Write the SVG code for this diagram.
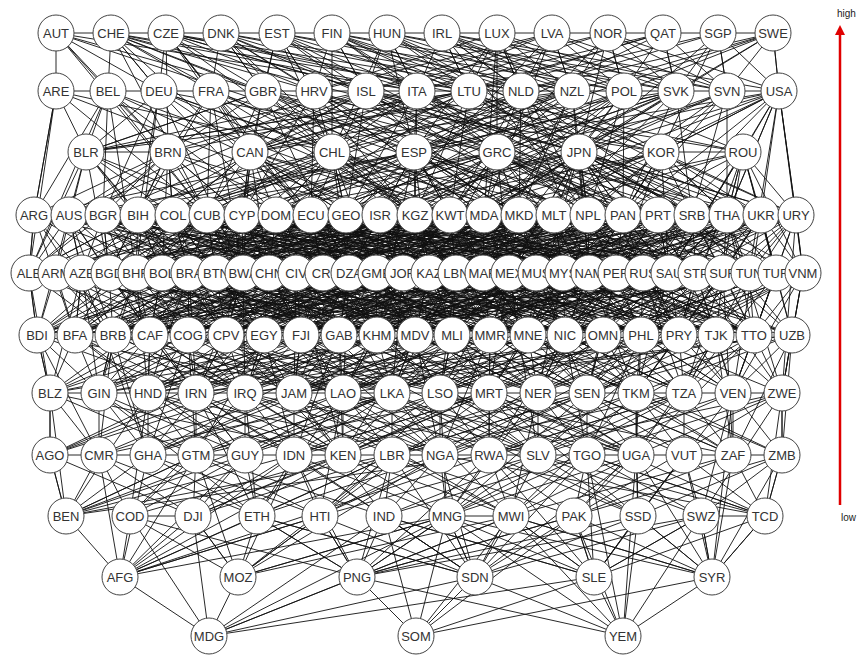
<svg xmlns="http://www.w3.org/2000/svg" width="861" height="657" viewBox="0 0 861 657">
<style>
.e{fill:none;stroke:#111;stroke-width:0.9;stroke-linejoin:round}
.n circle{fill:#fff;stroke:#444;stroke-width:1}
.n text{font-family:"Liberation Sans",Arial,sans-serif;font-size:13px;fill:#333;text-anchor:middle}
.lg{font-family:"Liberation Sans",Arial,sans-serif;font-size:10px;fill:#222}
</style>
<defs>
<marker id="ah" viewBox="0 0 10 10" refX="5" refY="5" markerWidth="4" markerHeight="4" orient="auto">
<path d="M0,0 10,5 0,10z" fill="#e00000"/>
</marker>
</defs>
<rect width="861" height="657" fill="#fff"/>
<g id="edges">
<path class="e" d="M56,33 111,33 166,33 221,33 277,33 332,33 387,33 442,33 497,33 552,33 608,33 663,33 718,33 773,33 M56,91 108,91 159,91 211,91 263,91 314,91 366,91 417,91 469,91 521,91 572,91 624,91 676,91 727,91 779,91 M86,152 168,152 M661,152 743,152 M50,393 99,393 148,393 196,393 245,393 294,393 343,393 392,393 440,393 489,393 538,393 587,393 636,393 684,393 733,393 782,393 M50,455 99,455 148,455 196,455 245,455 294,455 343,455 392,455 440,455 489,455 538,455 587,455 636,455 684,455 733,455 782,455 M130,516 193,516 M447,516 511,516 M701,516 765,516"/>
<path class="e" d="M56,33 56,91 M773,33 779,91 M56,91 34,215 29,273 37,335 50,393 50,455 66,516 M779,91 796,215 803,273 792,335 782,393 782,455 765,516"/>
<path class="e" d="M56,33 108,91 111,33 159,91 166,33 211,91 221,33 263,91 277,33 314,91 332,33 366,91 387,33 417,91 442,33 469,91 497,33 521,91 552,33 572,91 608,33 624,91 663,33 676,91 718,33 727,91 773,33 779,91 M56,33 263,91 111,33 314,91 166,33 366,91 221,33 417,91 277,33 469,91 332,33 521,91 387,33 572,91 442,33 624,91 497,33 676,91 552,33 727,91 608,33 779,91 M497,33 314,91 552,33 366,91 608,33 417,91 663,33 469,91 718,33 521,91 773,33 572,91 M56,33 417,91 111,33 469,91 166,33 521,91 221,33 572,91 277,33 624,91 332,33 676,91 387,33 727,91 442,33 779,91 M773,33 676,91 M773,33 624,91 M56,33 159,91 111,33 211,91 166,33 263,91 221,33 314,91 277,33 366,91 332,33 417,91 387,33 469,91 442,33 521,91 497,33 572,91 552,33 624,91 608,33 676,91 663,33 727,91 718,33 779,91"/>
<path class="e" d="M56,33 168,152 166,33 250,152 277,33 332,152 387,33 414,152 497,33 497,152 608,33 579,152 718,33 661,152 M332,33 332,152 M111,33 332,152 221,33 497,152 332,33 661,152 442,33 743,152 M552,33 250,152 663,33 414,152 773,33 579,152 M56,33 207,215 111,33 311,215 166,33 415,215 221,33 519,215 277,33 623,215 332,33 727,215 387,33 692,215 442,33 588,215 497,33 484,215 552,33 380,215 M56,33 414,152 111,33 579,152 166,33 743,152"/>
<path class="e" d="M56,91 86,152 108,91 168,152 211,91 250,152 314,91 332,152 417,91 414,152 521,91 497,152 624,91 579,152 727,91 661,152 779,91 743,152 M159,91 86,152 263,91 168,152 366,91 250,152 469,91 332,152 572,91 414,152 676,91 497,152 779,91 579,152 M56,91 332,152 159,91 497,152 263,91 661,152 366,91 743,152 M779,91 414,152 676,91 250,152 572,91 86,152 469,91 168,152 M86,152 263,91 M86,152 366,91 M86,152 469,91 M779,91 661,152 M779,91 727,215 M779,91 761,215"/>
<path class="e" d="M56,91 34,215 108,91 103,215 159,91 138,215 211,91 207,215 263,91 242,215 314,91 311,215 366,91 346,215 417,91 415,215 469,91 450,215 521,91 519,215 572,91 588,215 624,91 623,215 676,91 692,215 727,91 727,215 779,91 796,215 M56,91 207,215 108,91 276,215 159,91 346,215 211,91 415,215 263,91 484,215 314,91 554,215 366,91 623,215 417,91 692,215 469,91 761,215 521,91 796,215 M314,91 69,215 366,91 138,215 417,91 207,215 469,91 276,215 521,91 346,215 572,91 415,215 624,91 484,215 676,91 554,215 727,91 623,215 779,91 658,215 M56,91 380,215 108,91 450,215 159,91 519,215 211,91 588,215 263,91 658,215 314,91 727,215 366,91 796,215 M521,91 173,215 572,91 242,215 624,91 311,215 676,91 380,215 727,91 450,215 779,91 519,215"/>
<path class="e" d="M86,152 69,215 168,152 173,215 250,152 276,215 332,152 346,215 414,152 450,215 497,152 554,215 579,152 623,215 661,152 727,215 743,152 796,215 M86,152 138,215 168,152 242,215 250,152 346,215 332,152 415,215 414,152 519,215 497,152 623,215 579,152 692,215 661,152 761,215 743,152 727,215 M86,152 242,215 168,152 380,215 250,152 484,215 332,152 588,215 414,152 658,215 497,152 761,215 579,152 796,215 M743,152 519,215 661,152 415,215 579,152 311,215 497,152 207,215 414,152 103,215 332,152 34,215 M743,152 623,215 661,152 588,215 579,152 484,215 497,152 380,215 414,152 276,215 332,152 173,215 250,152 103,215 168,152 34,215 M86,152 173,215 168,152 311,215 250,152 450,215 332,152 519,215 414,152 588,215 497,152 692,215 579,152 727,215 661,152 796,215 M743,152 450,215 661,152 346,215 579,152 242,215 497,152 138,215 414,152 69,215"/>
<path class="e" d="M56,91 29,273 108,91 136,273 159,91 243,273 211,91 349,273 263,91 456,273 314,91 563,273 366,91 669,273 417,91 776,273 469,91 696,273 521,91 589,273 572,91 483,273 624,91 376,273 676,91 269,273 M779,91 803,273 M779,91 749,273 M779,91 669,273 M86,152 29,273 168,152 162,273 250,152 269,273 332,152 349,273 414,152 429,273 497,152 509,273 579,152 589,273 661,152 669,273 743,152 776,273 M86,152 109,273 168,152 243,273 250,152 376,273 332,152 483,273 414,152 589,273 497,152 696,273 579,152 803,273 M743,152 616,273 661,152 509,273 579,152 403,273 497,152 296,273 414,152 189,273 332,152 82,273 M86,152 56,273 M86,152 189,273 M86,152 323,273 M743,152 723,273 M743,152 803,273 M743,152 669,273 M86,152 226,335 250,152 377,335 414,152 528,335 579,152 679,335 743,152 792,335"/>
<path class="e" d="M34,215 29,273 69,215 82,273 103,215 109,273 138,215 136,273 173,215 189,273 207,215 216,273 242,215 243,273 276,215 269,273 311,215 323,273 346,215 349,273 380,215 376,273 415,215 403,273 450,215 456,273 484,215 483,273 519,215 509,273 554,215 563,273 588,215 589,273 623,215 616,273 658,215 669,273 692,215 696,273 727,215 723,273 761,215 776,273 796,215 803,273 M34,215 136,273 69,215 189,273 103,215 216,273 138,215 269,273 173,215 296,273 207,215 349,273 242,215 376,273 276,215 403,273 311,215 456,273 346,215 483,273 380,215 536,273 415,215 563,273 450,215 589,273 484,215 616,273 519,215 669,273 554,215 696,273 588,215 749,273 623,215 776,273 658,215 803,273 M138,215 29,273 173,215 56,273 207,215 109,273 242,215 136,273 276,215 162,273 311,215 216,273 346,215 243,273 380,215 296,273 415,215 323,273 450,215 349,273 484,215 403,273 519,215 429,273 554,215 456,273 588,215 509,273 623,215 536,273 658,215 563,273 692,215 589,273 727,215 643,273 761,215 669,273 796,215 696,273"/>
<path class="e" d="M34,215 269,273 69,215 323,273 103,215 349,273 138,215 403,273 173,215 429,273 207,215 483,273 242,215 509,273 276,215 563,273 311,215 589,273 346,215 643,273 380,215 669,273 415,215 723,273 450,215 749,273 484,215 803,273 M276,215 29,273 311,215 82,273 346,215 109,273 380,215 162,273 415,215 189,273 450,215 243,273 484,215 269,273 519,215 296,273 554,215 349,273 588,215 376,273 623,215 429,273 658,215 456,273 692,215 509,273 727,215 536,273 761,215 589,273 796,215 616,273 M34,215 429,273 69,215 483,273 103,215 536,273 138,215 589,273 173,215 643,273 207,215 696,273 242,215 749,273 276,215 803,273 M450,215 29,273 484,215 82,273 519,215 136,273 554,215 189,273 588,215 243,273 623,215 296,273 658,215 349,273 692,215 403,273 727,215 456,273 761,215 509,273 796,215 563,273"/>
<path class="e" d="M34,215 82,273 69,215 109,273 103,215 162,273 138,215 189,273 173,215 216,273 207,215 269,273 242,215 296,273 276,215 323,273 311,215 376,273 346,215 403,273 380,215 429,273 415,215 456,273 450,215 509,273 484,215 536,273 519,215 563,273 554,215 616,273 588,215 643,273 623,215 669,273 658,215 723,273 692,215 749,273 727,215 776,273 761,215 803,273 M103,215 29,273 138,215 82,273 173,215 109,273 207,215 136,273 242,215 189,273 276,215 216,273 311,215 243,273 346,215 296,273 380,215 323,273 415,215 349,273 450,215 403,273 484,215 429,273 519,215 456,273 554,215 509,273 588,215 536,273 623,215 563,273 658,215 616,273 692,215 643,273 727,215 669,273 761,215 723,273 796,215 749,273 M34,215 349,273 103,215 429,273 173,215 483,273 242,215 563,273 311,215 643,273 380,215 696,273 450,215 776,273 M796,215 483,273 727,215 403,273 658,215 349,273 588,215 269,273 519,215 189,273 450,215 136,273 380,215 56,273"/>
<path class="e" d="M34,215 113,335 69,215 150,335 103,215 188,335 138,215 226,335 173,215 264,335 207,215 301,335 242,215 339,335 276,215 377,335 311,215 415,335 346,215 415,335 380,215 452,335 415,215 490,335 450,215 528,335 484,215 565,335 519,215 603,335 554,215 641,335 588,215 679,335 623,215 716,335 658,215 754,335 692,215 792,335 M173,215 37,335 207,215 75,335 242,215 113,335 276,215 150,335 311,215 188,335 346,215 226,335 380,215 264,335 415,215 301,335 450,215 339,335 484,215 377,335 519,215 415,335 554,215 452,335 588,215 490,335 623,215 528,335 658,215 565,335 692,215 603,335 727,215 641,335 761,215 679,335 796,215 716,335 M34,215 339,335 69,215 377,335 103,215 415,335 138,215 452,335 173,215 490,335 207,215 528,335 242,215 565,335 276,215 603,335 311,215 641,335 346,215 679,335 380,215 716,335 415,215 754,335 450,215 792,335 M380,215 37,335 415,215 75,335 450,215 113,335 484,215 150,335 519,215 188,335 554,215 226,335 588,215 264,335 623,215 301,335 658,215 339,335 692,215 377,335 727,215 415,335 761,215 452,335 796,215 490,335 M796,215 754,335 M761,215 792,335 M727,215 754,335 M69,215 37,335 M34,215 75,335 M796,215 782,393 M761,215 733,393 M727,215 782,393"/>
<path class="e" d="M29,273 37,335 56,273 75,335 82,273 75,335 109,273 113,335 136,273 150,335 162,273 150,335 189,273 188,335 216,273 226,335 243,273 226,335 269,273 264,335 296,273 301,335 323,273 339,335 349,273 339,335 376,273 377,335 403,273 415,335 429,273 415,335 456,273 452,335 483,273 490,335 509,273 490,335 536,273 528,335 563,273 565,335 589,273 565,335 616,273 603,335 643,273 641,335 669,273 679,335 696,273 679,335 723,273 716,335 749,273 754,335 776,273 754,335 803,273 792,335 M29,273 188,335 56,273 226,335 82,273 226,335 109,273 264,335 136,273 301,335 162,273 339,335 189,273 339,335 216,273 377,335 243,273 415,335 269,273 415,335 296,273 452,335 323,273 490,335 349,273 490,335 376,273 528,335 403,273 565,335 429,273 603,335 456,273 603,335 483,273 641,335 509,273 679,335 536,273 679,335 563,273 716,335 589,273 754,335 616,273 754,335 643,273 792,335 M189,273 37,335 216,273 75,335 243,273 113,335 269,273 113,335 296,273 150,335 323,273 188,335 349,273 226,335 376,273 226,335 403,273 264,335 429,273 301,335 456,273 301,335 483,273 339,335 509,273 377,335 536,273 377,335 563,273 415,335 589,273 452,335 616,273 452,335 643,273 490,335 669,273 528,335 696,273 528,335 723,273 565,335 749,273 603,335 776,273 603,335 803,273 641,335"/>
<path class="e" d="M29,273 377,335 82,273 415,335 136,273 452,335 189,273 490,335 243,273 528,335 296,273 565,335 349,273 603,335 403,273 641,335 456,273 679,335 509,273 716,335 563,273 754,335 616,273 792,335 M376,273 37,335 429,273 75,335 483,273 113,335 536,273 150,335 589,273 188,335 643,273 226,335 696,273 264,335 749,273 301,335 803,273 339,335 M56,273 301,335 109,273 339,335 162,273 377,335 216,273 452,335 269,273 490,335 323,273 528,335 376,273 603,335 429,273 641,335 483,273 679,335 536,273 754,335 589,273 792,335"/>
<path class="e" d="M29,273 113,335 56,273 150,335 109,273 188,335 136,273 226,335 189,273 264,335 216,273 301,335 269,273 339,335 296,273 377,335 349,273 415,335 376,273 452,335 429,273 490,335 456,273 528,335 483,273 565,335 536,273 603,335 563,273 641,335 616,273 679,335 643,273 716,335 696,273 754,335 723,273 792,335 M136,273 37,335 162,273 75,335 216,273 113,335 269,273 150,335 296,273 188,335 349,273 226,335 376,273 264,335 429,273 301,335 456,273 339,335 483,273 377,335 536,273 415,335 563,273 452,335 616,273 490,335 643,273 528,335 696,273 565,335 723,273 603,335 776,273 641,335 803,273 679,335 M29,273 528,335 109,273 603,335 189,273 679,335 269,273 754,335 349,273 792,335 M803,273 301,335 723,273 226,335 643,273 150,335 563,273 75,335 483,273 37,335"/>
<path class="e" d="M29,273 50,393 82,273 99,393 136,273 148,393 189,273 196,393 243,273 245,393 296,273 294,393 349,273 343,393 403,273 392,393 456,273 440,393 509,273 489,393 563,273 538,393 616,273 587,393 669,273 636,393 723,273 684,393 776,273 733,393 803,273 782,393 M56,273 196,393 109,273 245,393 162,273 294,393 216,273 343,393 269,273 392,393 323,273 440,393 376,273 489,393 429,273 538,393 483,273 587,393 536,273 636,393 589,273 684,393 643,273 733,393 696,273 782,393 M216,273 50,393 269,273 99,393 323,273 148,393 376,273 196,393 429,273 245,393 483,273 294,393 536,273 343,393 589,273 392,393 643,273 440,393 696,273 489,393 749,273 538,393 803,273 587,393 M82,273 148,455 296,273 343,455 509,273 538,455 723,273 733,455"/>
<path class="e" d="M37,335 50,393 75,335 99,393 113,335 99,393 150,335 148,393 188,335 196,393 226,335 245,393 264,335 245,393 301,335 294,393 339,335 343,393 377,335 392,393 415,335 392,393 452,335 440,393 490,335 489,393 528,335 538,393 565,335 538,393 603,335 587,393 641,335 636,393 679,335 684,393 716,335 684,393 754,335 733,393 792,335 782,393 M37,335 196,393 75,335 245,393 113,335 245,393 150,335 294,393 188,335 343,393 226,335 392,393 264,335 392,393 301,335 440,393 339,335 489,393 377,335 538,393 415,335 538,393 452,335 587,393 490,335 636,393 528,335 684,393 565,335 684,393 603,335 733,393 641,335 782,393 M188,335 50,393 226,335 99,393 264,335 148,393 301,335 148,393 339,335 196,393 377,335 245,393 415,335 294,393 452,335 294,393 490,335 343,393 528,335 392,393 565,335 440,393 603,335 440,393 641,335 489,393 679,335 538,393 716,335 587,393 754,335 587,393 792,335 636,393 M37,335 343,393 113,335 392,393 188,335 440,393 264,335 489,393 339,335 538,393 415,335 587,393 490,335 636,393 565,335 684,393 641,335 733,393 716,335 782,393 M339,335 50,393 415,335 99,393 490,335 148,393 565,335 196,393 641,335 245,393 716,335 294,393 792,335 343,393 M37,335 99,393 M75,335 148,393 150,335 196,393 226,335 294,393 301,335 343,393 377,335 440,393 452,335 489,393 528,335 587,393 603,335 636,393 679,335 733,393 754,335 782,393"/>
<path class="e" d="M37,335 99,455 113,335 148,455 188,335 196,455 264,335 294,455 339,335 343,455 415,335 440,455 490,335 489,455 565,335 587,455 641,335 636,455 716,335 733,455 792,335 782,455 M75,335 245,455 150,335 343,455 226,335 440,455 301,335 538,455 377,335 636,455 452,335 733,455 528,335 782,455 M301,335 50,455 377,335 148,455 452,335 245,455 528,335 343,455 603,335 440,455 679,335 538,455 754,335 636,455"/>
<path class="e" d="M50,393 50,455 M50,393 99,455 99,393 148,455 148,393 196,455 196,393 245,455 245,393 294,455 294,393 343,455 343,393 392,455 392,393 440,455 440,393 489,455 489,393 538,455 538,393 587,455 587,393 636,455 636,393 684,455 684,393 733,455 733,393 782,455 782,393 M50,393 196,455 99,393 245,455 148,393 294,455 196,393 343,455 245,393 392,455 294,393 440,455 343,393 489,455 392,393 538,455 440,393 587,455 489,393 636,455 538,393 684,455 587,393 733,455 636,393 782,455 M196,393 50,455 245,393 99,455 294,393 148,455 343,393 196,455 392,393 245,455 440,393 294,455 489,393 343,455 538,393 392,455 587,393 440,455 636,393 489,455 684,393 538,455 733,393 587,455 782,393 636,455 M50,393 343,455 148,393 440,455 245,393 538,455 343,393 636,455 440,393 733,455 M782,393 489,455 684,393 392,455 587,393 294,455 489,393 196,455 392,393 99,455"/>
<path class="e" d="M50,393 66,516 148,393 130,516 245,393 257,516 343,393 320,516 440,393 447,516 538,393 511,516 636,393 638,516 733,393 701,516 782,393 765,516 M99,393 257,516 196,393 384,516 294,393 511,516 392,393 638,516 489,393 765,516 M782,393 574,516 684,393 447,516 587,393 320,516 489,393 193,516 392,393 66,516"/>
<path class="e" d="M50,455 66,516 99,455 130,516 196,455 193,516 245,455 257,516 294,455 320,516 392,455 384,516 440,455 447,516 489,455 511,516 587,455 574,516 636,455 638,516 684,455 701,516 782,455 765,516 M50,455 193,516 99,455 257,516 148,455 320,516 196,455 384,516 294,455 447,516 343,455 511,516 392,455 574,516 489,455 638,516 538,455 701,516 587,455 765,516 M196,455 66,516 245,455 130,516 343,455 193,516 392,455 257,516 440,455 320,516 538,455 384,516 587,455 447,516 636,455 511,516 733,455 574,516 782,455 638,516 M66,516 148,455 M66,516 294,455 M66,516 392,455 M66,516 489,455 M66,516 196,455 M765,516 587,455 M765,516 538,455 M765,516 440,455 M765,516 684,455 M765,516 733,455"/>
<path class="e" d="M66,516 120,577 130,516 238,577 193,516 238,577 257,516 357,577 320,516 357,577 384,516 475,577 447,516 475,577 511,516 594,577 574,516 594,577 638,516 712,577 701,516 712,577 765,516 M193,516 120,577 320,516 238,577 447,516 357,577 574,516 475,577 701,516 594,577 M130,516 357,577 257,516 475,577 384,516 594,577 511,516 712,577"/>
<path class="e" d="M120,577 99,455 M120,577 148,455 M120,577 196,455 M120,577 245,455 M120,577 294,455 M120,577 343,455 M120,577 392,455 M120,577 489,455 M120,577 257,516 M120,577 320,516 M120,577 447,516 M238,577 196,455 M238,577 294,455 M238,577 392,455 M238,577 440,455 M238,577 320,516 M238,577 447,516 M238,577 511,516 M357,577 294,455 M357,577 392,455 M357,577 489,455 M357,577 538,455 M357,577 574,516 M357,577 638,516 M357,577 701,516 M357,577 511,516 M475,577 392,455 M475,577 440,455 M475,577 538,455 M475,577 587,455 M475,577 636,455 M475,577 384,516 M475,577 320,516 M475,577 638,516 M475,577 257,516 M594,577 489,455 M594,577 587,455 M594,577 684,455 M594,577 638,516 M594,577 701,516 M594,577 765,516 M594,577 447,516 M594,577 384,516 M712,577 636,455 M712,577 684,455 M712,577 733,455 M712,577 782,455 M712,577 638,516 M712,577 765,516 M712,577 574,516 M712,577 511,516 M712,577 447,516 M712,577 733,393"/>
<path class="e" d="M209,636 120,577 M209,636 238,577 M209,636 357,577 M209,636 475,577 M209,636 594,577 M209,636 130,516 M209,636 193,516 M209,636 447,516 M209,636 384,516 M209,636 511,516 M416,636 357,577 M416,636 475,577 M416,636 594,577 M416,636 712,577 M416,636 384,516 M416,636 447,516 M416,636 511,516 M416,636 574,516 M623,636 475,577 M623,636 594,577 M623,636 712,577 M623,636 357,577 M623,636 511,516 M623,636 574,516 M623,636 638,516 M623,636 636,455 M623,636 587,455 M623,636 701,516 M623,636 447,516"/>
</g>
<g id="nodes" class="n">
<g id="AUT"><circle cx="56" cy="33" r="18"/><text x="56" y="37.5">AUT</text></g>
<g id="CHE"><circle cx="111" cy="33" r="18"/><text x="111" y="37.5">CHE</text></g>
<g id="CZE"><circle cx="166" cy="33" r="18"/><text x="166" y="37.5">CZE</text></g>
<g id="DNK"><circle cx="221" cy="33" r="18"/><text x="221" y="37.5">DNK</text></g>
<g id="EST"><circle cx="277" cy="33" r="18"/><text x="277" y="37.5">EST</text></g>
<g id="FIN"><circle cx="332" cy="33" r="18"/><text x="332" y="37.5">FIN</text></g>
<g id="HUN"><circle cx="387" cy="33" r="18"/><text x="387" y="37.5">HUN</text></g>
<g id="IRL"><circle cx="442" cy="33" r="18"/><text x="442" y="37.5">IRL</text></g>
<g id="LUX"><circle cx="497" cy="33" r="18"/><text x="497" y="37.5">LUX</text></g>
<g id="LVA"><circle cx="552" cy="33" r="18"/><text x="552" y="37.5">LVA</text></g>
<g id="NOR"><circle cx="608" cy="33" r="18"/><text x="608" y="37.5">NOR</text></g>
<g id="QAT"><circle cx="663" cy="33" r="18"/><text x="663" y="37.5">QAT</text></g>
<g id="SGP"><circle cx="718" cy="33" r="18"/><text x="718" y="37.5">SGP</text></g>
<g id="SWE"><circle cx="773" cy="33" r="18"/><text x="773" y="37.5">SWE</text></g>
<g id="ARE"><circle cx="56" cy="91" r="18"/><text x="56" y="95.5">ARE</text></g>
<g id="BEL"><circle cx="108" cy="91" r="18"/><text x="108" y="95.5">BEL</text></g>
<g id="DEU"><circle cx="159" cy="91" r="18"/><text x="159" y="95.5">DEU</text></g>
<g id="FRA"><circle cx="211" cy="91" r="18"/><text x="211" y="95.5">FRA</text></g>
<g id="GBR"><circle cx="263" cy="91" r="18"/><text x="263" y="95.5">GBR</text></g>
<g id="HRV"><circle cx="314" cy="91" r="18"/><text x="314" y="95.5">HRV</text></g>
<g id="ISL"><circle cx="366" cy="91" r="18"/><text x="366" y="95.5">ISL</text></g>
<g id="ITA"><circle cx="417" cy="91" r="18"/><text x="417" y="95.5">ITA</text></g>
<g id="LTU"><circle cx="469" cy="91" r="18"/><text x="469" y="95.5">LTU</text></g>
<g id="NLD"><circle cx="521" cy="91" r="18"/><text x="521" y="95.5">NLD</text></g>
<g id="NZL"><circle cx="572" cy="91" r="18"/><text x="572" y="95.5">NZL</text></g>
<g id="POL"><circle cx="624" cy="91" r="18"/><text x="624" y="95.5">POL</text></g>
<g id="SVK"><circle cx="676" cy="91" r="18"/><text x="676" y="95.5">SVK</text></g>
<g id="SVN"><circle cx="727" cy="91" r="18"/><text x="727" y="95.5">SVN</text></g>
<g id="USA"><circle cx="779" cy="91" r="18"/><text x="779" y="95.5">USA</text></g>
<g id="BLR"><circle cx="86" cy="152" r="18"/><text x="86" y="156.5">BLR</text></g>
<g id="BRN"><circle cx="168" cy="152" r="18"/><text x="168" y="156.5">BRN</text></g>
<g id="CAN"><circle cx="250" cy="152" r="18"/><text x="250" y="156.5">CAN</text></g>
<g id="CHL"><circle cx="332" cy="152" r="18"/><text x="332" y="156.5">CHL</text></g>
<g id="ESP"><circle cx="414" cy="152" r="18"/><text x="414" y="156.5">ESP</text></g>
<g id="GRC"><circle cx="497" cy="152" r="18"/><text x="497" y="156.5">GRC</text></g>
<g id="JPN"><circle cx="579" cy="152" r="18"/><text x="579" y="156.5">JPN</text></g>
<g id="KOR"><circle cx="661" cy="152" r="18"/><text x="661" y="156.5">KOR</text></g>
<g id="ROU"><circle cx="743" cy="152" r="18"/><text x="743" y="156.5">ROU</text></g>
<g id="ARG"><circle cx="34" cy="215" r="18"/><text x="34" y="219.5">ARG</text></g>
<g id="AUS"><circle cx="69" cy="215" r="18"/><text x="69" y="219.5">AUS</text></g>
<g id="BGR"><circle cx="103" cy="215" r="18"/><text x="103" y="219.5">BGR</text></g>
<g id="BIH"><circle cx="138" cy="215" r="18"/><text x="138" y="219.5">BIH</text></g>
<g id="COL"><circle cx="173" cy="215" r="18"/><text x="173" y="219.5">COL</text></g>
<g id="CUB"><circle cx="207" cy="215" r="18"/><text x="207" y="219.5">CUB</text></g>
<g id="CYP"><circle cx="242" cy="215" r="18"/><text x="242" y="219.5">CYP</text></g>
<g id="DOM"><circle cx="276" cy="215" r="18"/><text x="276" y="219.5">DOM</text></g>
<g id="ECU"><circle cx="311" cy="215" r="18"/><text x="311" y="219.5">ECU</text></g>
<g id="GEO"><circle cx="346" cy="215" r="18"/><text x="346" y="219.5">GEO</text></g>
<g id="ISR"><circle cx="380" cy="215" r="18"/><text x="380" y="219.5">ISR</text></g>
<g id="KGZ"><circle cx="415" cy="215" r="18"/><text x="415" y="219.5">KGZ</text></g>
<g id="KWT"><circle cx="450" cy="215" r="18"/><text x="450" y="219.5">KWT</text></g>
<g id="MDA"><circle cx="484" cy="215" r="18"/><text x="484" y="219.5">MDA</text></g>
<g id="MKD"><circle cx="519" cy="215" r="18"/><text x="519" y="219.5">MKD</text></g>
<g id="MLT"><circle cx="554" cy="215" r="18"/><text x="554" y="219.5">MLT</text></g>
<g id="NPL"><circle cx="588" cy="215" r="18"/><text x="588" y="219.5">NPL</text></g>
<g id="PAN"><circle cx="623" cy="215" r="18"/><text x="623" y="219.5">PAN</text></g>
<g id="PRT"><circle cx="658" cy="215" r="18"/><text x="658" y="219.5">PRT</text></g>
<g id="SRB"><circle cx="692" cy="215" r="18"/><text x="692" y="219.5">SRB</text></g>
<g id="THA"><circle cx="727" cy="215" r="18"/><text x="727" y="219.5">THA</text></g>
<g id="UKR"><circle cx="761" cy="215" r="18"/><text x="761" y="219.5">UKR</text></g>
<g id="URY"><circle cx="796" cy="215" r="18"/><text x="796" y="219.5">URY</text></g>
<g id="ALB"><circle cx="29" cy="273" r="18"/><text x="29" y="277.5">ALB</text></g>
<g id="ARM"><circle cx="56" cy="273" r="18"/><text x="56" y="277.5">ARM</text></g>
<g id="AZE"><circle cx="82" cy="273" r="18"/><text x="82" y="277.5">AZE</text></g>
<g id="BGD"><circle cx="109" cy="273" r="18"/><text x="109" y="277.5">BGD</text></g>
<g id="BHR"><circle cx="136" cy="273" r="18"/><text x="136" y="277.5">BHR</text></g>
<g id="BOL"><circle cx="162" cy="273" r="18"/><text x="162" y="277.5">BOL</text></g>
<g id="BRA"><circle cx="189" cy="273" r="18"/><text x="189" y="277.5">BRA</text></g>
<g id="BTN"><circle cx="216" cy="273" r="18"/><text x="216" y="277.5">BTN</text></g>
<g id="BWA"><circle cx="243" cy="273" r="18"/><text x="243" y="277.5">BWA</text></g>
<g id="CHN"><circle cx="269" cy="273" r="18"/><text x="269" y="277.5">CHN</text></g>
<g id="CIV"><circle cx="296" cy="273" r="18"/><text x="296" y="277.5">CIV</text></g>
<g id="CRI"><circle cx="323" cy="273" r="18"/><text x="323" y="277.5">CRI</text></g>
<g id="DZA"><circle cx="349" cy="273" r="18"/><text x="349" y="277.5">DZA</text></g>
<g id="GMB"><circle cx="376" cy="273" r="18"/><text x="376" y="277.5">GMB</text></g>
<g id="JOR"><circle cx="403" cy="273" r="18"/><text x="403" y="277.5">JOR</text></g>
<g id="KAZ"><circle cx="429" cy="273" r="18"/><text x="429" y="277.5">KAZ</text></g>
<g id="LBN"><circle cx="456" cy="273" r="18"/><text x="456" y="277.5">LBN</text></g>
<g id="MAR"><circle cx="483" cy="273" r="18"/><text x="483" y="277.5">MAR</text></g>
<g id="MEX"><circle cx="509" cy="273" r="18"/><text x="509" y="277.5">MEX</text></g>
<g id="MUS"><circle cx="536" cy="273" r="18"/><text x="536" y="277.5">MUS</text></g>
<g id="MYS"><circle cx="563" cy="273" r="18"/><text x="563" y="277.5">MYS</text></g>
<g id="NAM"><circle cx="589" cy="273" r="18"/><text x="589" y="277.5">NAM</text></g>
<g id="PER"><circle cx="616" cy="273" r="18"/><text x="616" y="277.5">PER</text></g>
<g id="RUS"><circle cx="643" cy="273" r="18"/><text x="643" y="277.5">RUS</text></g>
<g id="SAU"><circle cx="669" cy="273" r="18"/><text x="669" y="277.5">SAU</text></g>
<g id="STP"><circle cx="696" cy="273" r="18"/><text x="696" y="277.5">STP</text></g>
<g id="SUR"><circle cx="723" cy="273" r="18"/><text x="723" y="277.5">SUR</text></g>
<g id="TUN"><circle cx="749" cy="273" r="18"/><text x="749" y="277.5">TUN</text></g>
<g id="TUR"><circle cx="776" cy="273" r="18"/><text x="776" y="277.5">TUR</text></g>
<g id="VNM"><circle cx="803" cy="273" r="18"/><text x="803" y="277.5">VNM</text></g>
<g id="BDI"><circle cx="37" cy="335" r="18"/><text x="37" y="339.5">BDI</text></g>
<g id="BFA"><circle cx="75" cy="335" r="18"/><text x="75" y="339.5">BFA</text></g>
<g id="BRB"><circle cx="113" cy="335" r="18"/><text x="113" y="339.5">BRB</text></g>
<g id="CAF"><circle cx="150" cy="335" r="18"/><text x="150" y="339.5">CAF</text></g>
<g id="COG"><circle cx="188" cy="335" r="18"/><text x="188" y="339.5">COG</text></g>
<g id="CPV"><circle cx="226" cy="335" r="18"/><text x="226" y="339.5">CPV</text></g>
<g id="EGY"><circle cx="264" cy="335" r="18"/><text x="264" y="339.5">EGY</text></g>
<g id="FJI"><circle cx="301" cy="335" r="18"/><text x="301" y="339.5">FJI</text></g>
<g id="GAB"><circle cx="339" cy="335" r="18"/><text x="339" y="339.5">GAB</text></g>
<g id="KHM"><circle cx="377" cy="335" r="18"/><text x="377" y="339.5">KHM</text></g>
<g id="MDV"><circle cx="415" cy="335" r="18"/><text x="415" y="339.5">MDV</text></g>
<g id="MLI"><circle cx="452" cy="335" r="18"/><text x="452" y="339.5">MLI</text></g>
<g id="MMR"><circle cx="490" cy="335" r="18"/><text x="490" y="339.5">MMR</text></g>
<g id="MNE"><circle cx="528" cy="335" r="18"/><text x="528" y="339.5">MNE</text></g>
<g id="NIC"><circle cx="565" cy="335" r="18"/><text x="565" y="339.5">NIC</text></g>
<g id="OMN"><circle cx="603" cy="335" r="18"/><text x="603" y="339.5">OMN</text></g>
<g id="PHL"><circle cx="641" cy="335" r="18"/><text x="641" y="339.5">PHL</text></g>
<g id="PRY"><circle cx="679" cy="335" r="18"/><text x="679" y="339.5">PRY</text></g>
<g id="TJK"><circle cx="716" cy="335" r="18"/><text x="716" y="339.5">TJK</text></g>
<g id="TTO"><circle cx="754" cy="335" r="18"/><text x="754" y="339.5">TTO</text></g>
<g id="UZB"><circle cx="792" cy="335" r="18"/><text x="792" y="339.5">UZB</text></g>
<g id="BLZ"><circle cx="50" cy="393" r="18"/><text x="50" y="397.5">BLZ</text></g>
<g id="GIN"><circle cx="99" cy="393" r="18"/><text x="99" y="397.5">GIN</text></g>
<g id="HND"><circle cx="148" cy="393" r="18"/><text x="148" y="397.5">HND</text></g>
<g id="IRN"><circle cx="196" cy="393" r="18"/><text x="196" y="397.5">IRN</text></g>
<g id="IRQ"><circle cx="245" cy="393" r="18"/><text x="245" y="397.5">IRQ</text></g>
<g id="JAM"><circle cx="294" cy="393" r="18"/><text x="294" y="397.5">JAM</text></g>
<g id="LAO"><circle cx="343" cy="393" r="18"/><text x="343" y="397.5">LAO</text></g>
<g id="LKA"><circle cx="392" cy="393" r="18"/><text x="392" y="397.5">LKA</text></g>
<g id="LSO"><circle cx="440" cy="393" r="18"/><text x="440" y="397.5">LSO</text></g>
<g id="MRT"><circle cx="489" cy="393" r="18"/><text x="489" y="397.5">MRT</text></g>
<g id="NER"><circle cx="538" cy="393" r="18"/><text x="538" y="397.5">NER</text></g>
<g id="SEN"><circle cx="587" cy="393" r="18"/><text x="587" y="397.5">SEN</text></g>
<g id="TKM"><circle cx="636" cy="393" r="18"/><text x="636" y="397.5">TKM</text></g>
<g id="TZA"><circle cx="684" cy="393" r="18"/><text x="684" y="397.5">TZA</text></g>
<g id="VEN"><circle cx="733" cy="393" r="18"/><text x="733" y="397.5">VEN</text></g>
<g id="ZWE"><circle cx="782" cy="393" r="18"/><text x="782" y="397.5">ZWE</text></g>
<g id="AGO"><circle cx="50" cy="455" r="18"/><text x="50" y="459.5">AGO</text></g>
<g id="CMR"><circle cx="99" cy="455" r="18"/><text x="99" y="459.5">CMR</text></g>
<g id="GHA"><circle cx="148" cy="455" r="18"/><text x="148" y="459.5">GHA</text></g>
<g id="GTM"><circle cx="196" cy="455" r="18"/><text x="196" y="459.5">GTM</text></g>
<g id="GUY"><circle cx="245" cy="455" r="18"/><text x="245" y="459.5">GUY</text></g>
<g id="IDN"><circle cx="294" cy="455" r="18"/><text x="294" y="459.5">IDN</text></g>
<g id="KEN"><circle cx="343" cy="455" r="18"/><text x="343" y="459.5">KEN</text></g>
<g id="LBR"><circle cx="392" cy="455" r="18"/><text x="392" y="459.5">LBR</text></g>
<g id="NGA"><circle cx="440" cy="455" r="18"/><text x="440" y="459.5">NGA</text></g>
<g id="RWA"><circle cx="489" cy="455" r="18"/><text x="489" y="459.5">RWA</text></g>
<g id="SLV"><circle cx="538" cy="455" r="18"/><text x="538" y="459.5">SLV</text></g>
<g id="TGO"><circle cx="587" cy="455" r="18"/><text x="587" y="459.5">TGO</text></g>
<g id="UGA"><circle cx="636" cy="455" r="18"/><text x="636" y="459.5">UGA</text></g>
<g id="VUT"><circle cx="684" cy="455" r="18"/><text x="684" y="459.5">VUT</text></g>
<g id="ZAF"><circle cx="733" cy="455" r="18"/><text x="733" y="459.5">ZAF</text></g>
<g id="ZMB"><circle cx="782" cy="455" r="18"/><text x="782" y="459.5">ZMB</text></g>
<g id="BEN"><circle cx="66" cy="516" r="18"/><text x="66" y="520.5">BEN</text></g>
<g id="COD"><circle cx="130" cy="516" r="18"/><text x="130" y="520.5">COD</text></g>
<g id="DJI"><circle cx="193" cy="516" r="18"/><text x="193" y="520.5">DJI</text></g>
<g id="ETH"><circle cx="257" cy="516" r="18"/><text x="257" y="520.5">ETH</text></g>
<g id="HTI"><circle cx="320" cy="516" r="18"/><text x="320" y="520.5">HTI</text></g>
<g id="IND"><circle cx="384" cy="516" r="18"/><text x="384" y="520.5">IND</text></g>
<g id="MNG"><circle cx="447" cy="516" r="18"/><text x="447" y="520.5">MNG</text></g>
<g id="MWI"><circle cx="511" cy="516" r="18"/><text x="511" y="520.5">MWI</text></g>
<g id="PAK"><circle cx="574" cy="516" r="18"/><text x="574" y="520.5">PAK</text></g>
<g id="SSD"><circle cx="638" cy="516" r="18"/><text x="638" y="520.5">SSD</text></g>
<g id="SWZ"><circle cx="701" cy="516" r="18"/><text x="701" y="520.5">SWZ</text></g>
<g id="TCD"><circle cx="765" cy="516" r="18"/><text x="765" y="520.5">TCD</text></g>
<g id="AFG"><circle cx="120" cy="577" r="18"/><text x="120" y="581.5">AFG</text></g>
<g id="MOZ"><circle cx="238" cy="577" r="18"/><text x="238" y="581.5">MOZ</text></g>
<g id="PNG"><circle cx="357" cy="577" r="18"/><text x="357" y="581.5">PNG</text></g>
<g id="SDN"><circle cx="475" cy="577" r="18"/><text x="475" y="581.5">SDN</text></g>
<g id="SLE"><circle cx="594" cy="577" r="18"/><text x="594" y="581.5">SLE</text></g>
<g id="SYR"><circle cx="712" cy="577" r="18"/><text x="712" y="581.5">SYR</text></g>
<g id="MDG"><circle cx="209" cy="636" r="18"/><text x="209" y="640.5">MDG</text></g>
<g id="SOM"><circle cx="416" cy="636" r="18"/><text x="416" y="640.5">SOM</text></g>
<g id="YEM"><circle cx="623" cy="636" r="18"/><text x="623" y="640.5">YEM</text></g>
</g>
<g id="legend">
<line x1="840" y1="505" x2="840" y2="30" stroke="#e00000" stroke-width="2.5" marker-end="url(#ah)"/>
<text class="lg" x="837" y="17">high</text>
<text class="lg" x="841" y="521">low</text>
</g>
</svg>
